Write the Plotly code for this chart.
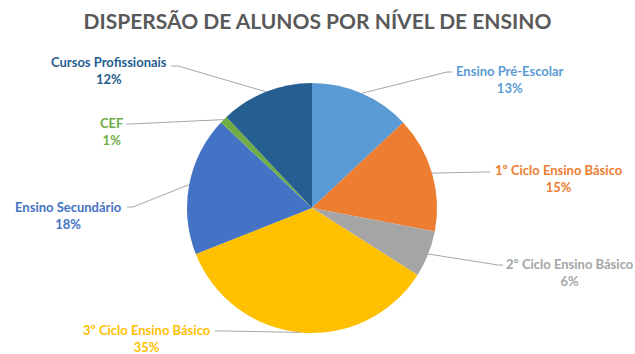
import math
import plotly.graph_objects as go

# Distribution of students by teaching level (share, %)
categories = [
    "Ensino Pré-Escolar",
    "1º Ciclo Ensino Básico",
    "2º Ciclo Ensino Básico",
    "3º Ciclo Ensino Básico",
    "Ensino Secundário",
    "CEF",
    "Cursos Profissionais",
]
values = [13, 15, 6, 35, 18, 1, 12]
colors = ["#5B9BD5", "#ED7D31", "#A5A5A5", "#FFC000", "#4472C4", "#70AD47", "#255E91"]

W, H = 635, 354
# pie placement in pixels (centre and radius)
CX, CY, R = 312, 208, 125

# label centres (px) and leader-line elbow / tail (px)
label_pos = [(510, 79.5), (559, 178.5), (570, 272), (147, 338), (68, 215), (111, 131), (109, 70)]
elbows = [(447, 72, 452), (485, 172, 490), (498, 265, 503), (226, 331, 215),
          (133, 207, 127), (130, 124, 126), (178, 66, 171)]


def px(x):
    return x / W


def py(y):
    return 1 - y / H


fig = go.Figure(
    go.Pie(
        labels=categories,
        values=values,
        sort=False,
        direction="clockwise",
        rotation=0,
        marker=dict(colors=colors, line=dict(width=0)),
        textinfo="none",
        hoverinfo="label+percent",
        domain=dict(x=[px(CX - R), px(CX + R)], y=[py(CY + R), py(CY - R)]),
    )
)

total = sum(values)
annotations = []
shapes = []
cum = 0
for name, v, col, (lx, ly), (ex, ey, tx) in zip(categories, values, colors, label_pos, elbows):
    mid = (cum + v / 2) / total * 2 * math.pi
    cum += v
    ax_ = CX + R * math.sin(mid)
    ay_ = CY - R * math.cos(mid)
    shapes.append(dict(
        type="path", xref="paper", yref="paper",
        path=f"M {px(ax_)},{py(ay_)} L {px(ex)},{py(ey)} L {px(tx)},{py(ey)}",
        line=dict(color="#A6A6A6", width=1),
    ))
    annotations.append(dict(
        x=px(lx), y=py(ly), xref="paper", yref="paper",
        xanchor="center", yanchor="middle", showarrow=False,
        text=f"<b>{name}<br>{v / total:.0%}</b>",
        font=dict(family="Lato", size=13, color=col),
        align="center",
    ))

fig.update_layout(
    width=W, height=H,
    margin=dict(l=0, r=0, t=0, b=0),
    paper_bgcolor="white",
    showlegend=False,
    title=dict(
        text="<b>DISPERSÃO DE ALUNOS POR NÍVEL DE ENSINO</b>",
        x=0.5, xanchor="center", y=py(22), yanchor="middle",
        font=dict(family="Lato", size=21, color="#595959"),
    ),
    annotations=annotations,
    shapes=shapes,
)

fig.write_html("out.html")
